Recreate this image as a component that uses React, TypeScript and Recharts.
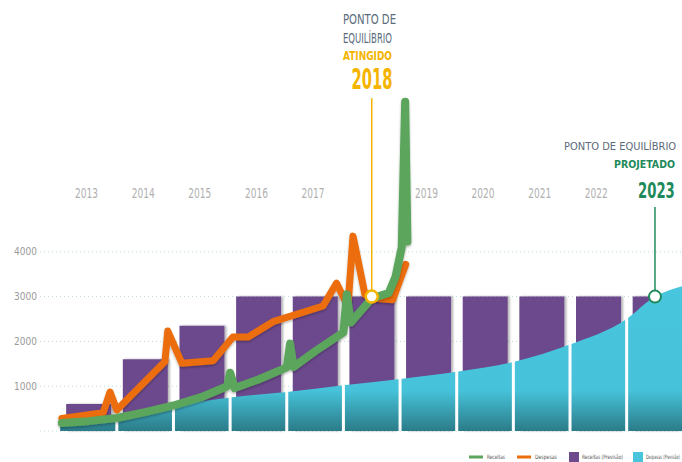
import React from "react";
import {
  ComposedChart,
  Bar,
  Line,
  Area,
  XAxis,
  YAxis,
  CartesianGrid,
  ReferenceLine,
  ReferenceDot,
} from "recharts";

const FONT = "'Liberation Sans Narrow', 'DejaVu Sans Condensed', 'Roboto', sans-serif";

// categories
const years = [2013, 2014, 2015, 2016, 2017, 2018, 2019, 2020, 2021, 2022, 2023];
const yearTicks = [2013, 2014, 2015, 2016, 2017, 2019, 2020, 2021, 2022];
const yTicks = [0, 1000, 2000, 3000, 4000];

// Receitas (Previsão) - purple bars
const receitasPrevisao = [600, 1600, 2350, 3000, 3000, 3000, 3000, 3000, 3000, 3000, 3000];

// Despesas (Previsão) - cyan area, read at year boundaries
const despPrevX = [2012.5, 2013.5, 2014.5, 2015.5, 2016.5, 2017.5, 2018.5, 2019.5, 2020.5, 2021.5, 2022.5, 2023, 2023.5];
const despPrevY = [110, 300, 560, 750, 870, 1020, 1160, 1320, 1540, 1930, 2500, 3000, 3240];

// Receitas (realizado) - green line
const receitasX = [2012.53, 2013.0, 2013.5, 2014.0, 2014.5, 2015.0, 2015.45, 2015.5, 2015.58, 2016.0, 2016.5, 2016.56, 2016.62, 2017.0, 2017.5, 2017.56, 2017.63, 2018.0, 2018.3, 2018.42, 2018.53, 2018.59, 2018.63];
const receitasY = [180, 220, 290, 420, 570, 760, 1000, 1300, 960, 1150, 1420, 1950, 1430, 1780, 2200, 3050, 2420, 2960, 3080, 3440, 4100, 7350, 4230];

// Despesas (realizado) - orange line
const despesasX = [2012.53, 2013.26, 2013.38, 2013.5, 2014.35, 2014.4, 2014.65, 2015.2, 2015.55, 2015.82, 2016.26, 2017.14, 2017.38, 2017.58, 2017.67, 2017.88, 2018.0, 2018.37, 2018.6];
const despesasY = [280, 410, 870, 470, 1550, 2230, 1510, 1570, 2100, 2100, 2440, 2790, 3300, 2780, 4350, 3050, 2970, 2930, 3720];

const barData = years.map((year, i) => ({ year, rp: receitasPrevisao[i] }));
const despPrevData = despPrevX.map((x, i) => ({ x, v: despPrevY[i] }));
const receitasData = receitasX.map((x, i) => ({ x, v: receitasY[i] }));
const despesasData = despesasX.map((x, i) => ({ x, v: despesasY[i] }));

const X_DOMAIN: [number, number] = [2012.144, 2023.477];

const YearTick = (props: any) => {
  const { x, payload } = props;
  return (
    <text
      x={x - 2}
      y={198}
      textAnchor="middle"
      fill="#b0b0b0"
      fontSize={14}
      fontFamily={FONT}
      textLength={23}
      lengthAdjust="spacingAndGlyphs"
    >
      {payload.value}
    </text>
  );
};

const legendItems = [
  { label: "Receitas", color: "#5ba55c", kind: "line", left: 469, textW: 18 },
  { label: "Despesas", color: "#eb6d0c", kind: "line", left: 517, textW: 22 },
  { label: "Receitas (Previsão)", color: "#6c4a8d", kind: "box", left: 569, textW: 41 },
  { label: "Despesas (Previsão)", color: "#48c5dc", kind: "box", left: 633, textW: 34 },
];

export default function App() {
  return (
    <div style={{ position: "absolute", left: 0, top: 0, width: 682, height: 462, overflow: "hidden", background: "#fff" }}>
      <ComposedChart
        width={682}
        height={462}
        data={barData}
        margin={{ top: 71.6, right: 0, bottom: 31, left: 0 }}
      >
        <defs>
          <linearGradient id="cyanGrad" gradientUnits="userSpaceOnUse" x1="0" y1="280" x2="0" y2="433">
            <stop offset="0" stopColor="#48c6dd" />
            <stop offset="0.72" stopColor="#46c3da" />
            <stop offset="1" stopColor="#2a7884" />
          </linearGradient>
          <filter id="lineShadow" x="-10%" y="-10%" width="120%" height="130%">
            <feDropShadow dx="0" dy="1.5" stdDeviation="1.2" floodColor="#000" floodOpacity="0.3" />
          </filter>
          <filter id="barShadow" x="-10%" y="-5%" width="130%" height="110%">
            <feDropShadow dx="2" dy="0" stdDeviation="1.3" floodColor="#000" floodOpacity="0.3" />
          </filter>
        </defs>
        <CartesianGrid
          xAxisId="num"
          vertical={false}
          horizontalValues={yTicks}
          stroke="#bddada"
          strokeDasharray="1 3"
        />
        <XAxis xAxisId="num" type="number" dataKey="x" domain={X_DOMAIN} hide allowDataOverflow />
        <XAxis
          xAxisId="bar"
          type="number"
          dataKey="year"
          orientation="top"
          height={1}
          domain={X_DOMAIN}
          ticks={yearTicks}
          tick={<YearTick />}
          axisLine={false}
          tickLine={false}
          allowDataOverflow
        />
        <YAxis
          width={40}
          domain={[0, 8000]}
          ticks={yTicks}
          tickFormatter={(v) => (v === 0 ? "" : `${v}`)}
          tick={{ fill: "#9a9a9a", fontSize: 10, fontFamily: FONT }}
          tickSize={0}
          tickMargin={3}
          axisLine={false}
          tickLine={false}
        />
        <Bar
          xAxisId="bar"
          dataKey="rp"
          fill="#6c4a8d"
          barSize={45}
          filter="url(#barShadow)"
          zIndex={100}
          isAnimationActive={false}
        />
        <Area
          xAxisId="num"
          data={despPrevData}
          dataKey="v"
          type="monotone"
          stroke="none"
          fill="url(#cyanGrad)"
          fillOpacity={1}
          zIndex={200}
          isAnimationActive={false}
        />
        {despPrevX.slice(1, 11).map((b, i) => (
          <ReferenceLine
            key={b}
            xAxisId="num"
            segment={[{ x: b, y: 0 }, { x: b, y: despPrevY[i + 1] + 80 }]}
            stroke="#ffffff"
            strokeWidth={3}
            zIndex={250}
          />
        ))}
        <ReferenceLine
          xAxisId="num"
          segment={[{ x: 2018, y: 3000 }, { x: 2018, y: 7430 }]}
          stroke="#f5b400"
          strokeWidth={1.5}
          zIndex={300}
        />
        <ReferenceLine
          xAxisId="num"
          segment={[{ x: 2023, y: 3000 }, { x: 2023, y: 5000 }]}
          stroke="#1f8a5b"
          strokeWidth={1.5}
          zIndex={300}
        />
        <Line
          xAxisId="num"
          data={despesasData}
          dataKey="v"
          type="linear"
          stroke="#eb6d0c"
          strokeWidth={7}
          strokeLinejoin="round"
          strokeLinecap="round"
          dot={false}
          filter="url(#lineShadow)"
          zIndex={400}
          isAnimationActive={false}
        />
        <Line
          xAxisId="num"
          data={receitasData}
          dataKey="v"
          type="linear"
          stroke="#5ba55c"
          strokeWidth={8}
          strokeLinejoin="round"
          strokeLinecap="round"
          dot={false}
          filter="url(#lineShadow)"
          zIndex={410}
          isAnimationActive={false}
        />
        <ReferenceDot xAxisId="num" x={2018} y={3000} r={6} fill="#ffffff" stroke="#f5b400" strokeWidth={2.5} zIndex={1300} />
        <ReferenceDot xAxisId="num" x={2023} y={3000} r={6} fill="#ffffff" stroke="#1f8a5b" strokeWidth={2} zIndex={1300} />
      </ComposedChart>

      <svg width={682} height={462} style={{ position: "absolute", left: 0, top: 0, pointerEvents: "none" }}>
        <g fontFamily={FONT}>
          <text x={369.5} y={24} textAnchor="middle" fontSize={14} fill="#5b6b7b" textLength={53} lengthAdjust="spacingAndGlyphs">PONTO DE</text>
          <text x={367.5} y={43} textAnchor="middle" fontSize={14} fill="#5b6b7b" textLength={49} lengthAdjust="spacingAndGlyphs">EQUILÍBRIO</text>
          <text x={367.5} y={60} textAnchor="middle" fontSize={13} fontWeight="bold" fill="#f5b400" textLength={49} lengthAdjust="spacingAndGlyphs">ATINGIDO</text>
          <text x={372} y={89} textAnchor="middle" fontSize={29} fontWeight="bold" fill="#f5b400" textLength={41} lengthAdjust="spacingAndGlyphs">2018</text>
          <text x={564} y={150} fontSize={11} fill="#5b6b7b">PONTO DE EQUILÍBRIO</text>
          <text x={614} y={168} fontSize={10.5} fontWeight="bold" fill="#1f8a5b">PROJETADO</text>
          <text transform="translate(638,198) scale(0.7,1)" x={0} y={0} fontSize={21} fontWeight="bold" fill="#1f8a5b">2023</text>
        </g>
        <g fontFamily={FONT}>
          {legendItems.map((it, i) => {
            const markW = it.kind === "line" ? 14 : 10;
            const tx = it.left + markW + (it.kind === "line" ? 4 : 3);
            const last = i === legendItems.length - 1;
            return (
              <g key={it.label}>
                {it.kind === "line" ? (
                  <rect x={it.left} y={455.5} width={14} height={3} fill={it.color} />
                ) : (
                  <rect x={it.left} y={452} width={10} height={10} fill={it.color} />
                )}
                {last ? (
                  <text transform={`translate(${tx},459) scale(0.62,1)`} x={0} y={0} fontSize={6} fill="#555">
                    {it.label}
                  </text>
                ) : (
                  <text
                    x={tx}
                    y={459}
                    fontSize={6}
                    fill="#555"
                    textLength={it.textW}
                    lengthAdjust="spacingAndGlyphs"
                  >
                    {it.label}
                  </text>
                )}
              </g>
            );
          })}
        </g>
      </svg>
    </div>
  );
}
